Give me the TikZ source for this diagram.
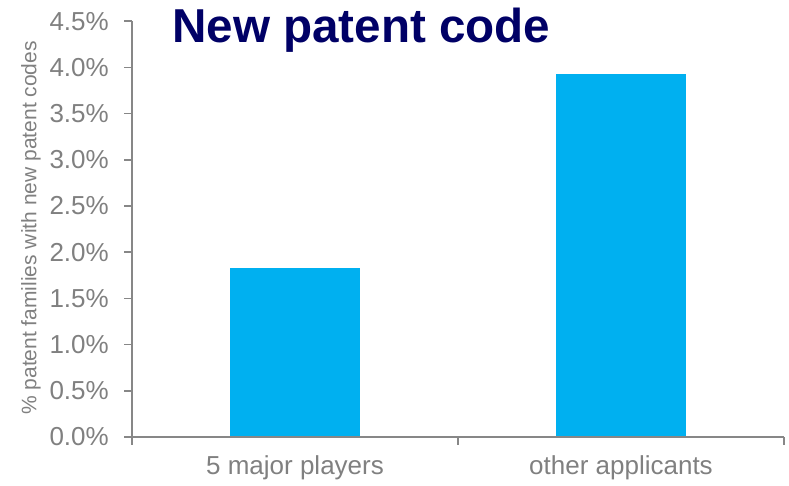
\documentclass[tikz,border=0pt]{standalone}
\usepackage{fontspec}
\setmainfont{Liberation Sans}
\definecolor{barblue}{HTML}{00B0F0}
\definecolor{axisgray}{HTML}{878787}
\definecolor{labelgray}{HTML}{808080}
\definecolor{titlenavy}{HTML}{000066}
\tikzset{
  axisline/.style={draw=axisgray, line width=1.6pt},
  bar/.style={fill=barblue, draw=none},
  ticklabel/.style={anchor=east, inner sep=0pt, text=labelgray, font=\fontsize{26}{30}\selectfont},
  catlabel/.style={inner sep=0pt, text=labelgray, font=\fontsize{26}{30}\selectfont},
  axistitle/.style={inner sep=0pt, rotate=90, text=labelgray, font=\fontsize{21}{24}\selectfont},
  charttitle/.style={anchor=base west, inner sep=0pt, text=titlenavy, font=\fontsize{47.6}{52}\selectfont\bfseries}
}
\begin{document}
\begin{tikzpicture}[x=1pt,y=1pt]
\useasboundingbox (0,0) rectangle (789,485);
\pgfmathsetmacro{\unit}{46.2}% height of 0.5%
% axes
\coordinate (O) at (132,48);
\coordinate (Ytop) at (132,{48+9*\unit});
\coordinate (Xend) at (784,48);
\coordinate (Xmid) at (458,48);
% bars
\fill[bar] (230,48) rectangle (360,{48+3.66*\unit});
\fill[bar] (556,48) rectangle (686,{48+7.86*\unit});
\draw[axisline] (Ytop) -- (O) -- (Xend);
% y ticks and labels
\foreach \i/\lab in {0/0.0\%,1/0.5\%,2/1.0\%,3/1.5\%,4/2.0\%,5/2.5\%,6/3.0\%,7/3.5\%,8/4.0\%,9/4.5\%}{
  \draw[axisline] (124,{48+\i*\unit}) -- (132,{48+\i*\unit});
  \node[ticklabel] (yl\i) at (109,{48+\i*\unit}) {\lab};
}
% x ticks
\draw[axisline] (O) -- ++(0,-8);
\draw[axisline] (Xmid) -- ++(0,-8);
\draw[axisline] (Xend) -- ++(0,-8);
% category labels
\node[catlabel] (c1) at (295,17) {5 major players};
\node[catlabel] (c2) at (621,17) {other applicants};
% axis title
\node[axistitle] (ytitle) at (31,257) {\% patent families with new patent codes};
% chart title
\node[charttitle] (title) at (172,442) {New patent code};
\end{tikzpicture}
\end{document}
